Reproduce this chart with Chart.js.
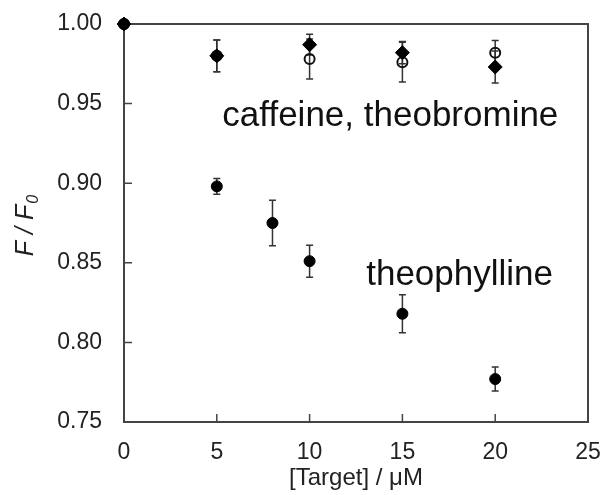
<!DOCTYPE html>
<html>
<head>
<meta charset="utf-8">
<script src="https://cdn.jsdelivr.net/npm/chart.js@4.4.1/dist/chart.umd.min.js"></script>
<style>
  body { margin: 0; background: #fff; }
</style>
</head>
<body>
<canvas id="myChart" width="602" height="495"></canvas>
<script>
// concentrations in µM
const caffeineConc = [0, 5, 10, 15, 20];
const caffeine = [1.000, 0.980, 0.987, 0.982, 0.973];
const caffeineErr = [0, 0.010, 0.0065, 0.007, 0.010];

const theobromineConc = [0, 5, 10, 15, 20];
const theobromine = [1.000, 0.980, 0.978, 0.976, 0.982];
const theobromineErr = [0, 0.010, 0.0125, 0.0125, 0.0077];

const theophyllineConc = [0, 5, 8, 10, 15, 20];
const theophylline = [1.000, 0.898, 0.875, 0.851, 0.818, 0.777];
const theophyllineErr = [0, 0.005, 0.0143, 0.010, 0.012, 0.0075];

const xTicks = [0, 5, 10, 15, 20, 25];
const yTicks = [0.75, 0.80, 0.85, 0.90, 0.95, 1.00];

// text placed inside the plot, in data units (left edge, baseline)
const notes = [
    { text: "caffeine, theobromine", x: 5.3, y: 0.9358 },
    { text: "theophylline", x: 13.05, y: 0.8358 }
];

const axisColor = "#444";
const textColor = "#222";
const FONT = "'Liberation Sans', Arial, sans-serif";

function points(xs, ys, errs) {
    return xs.map((x, i) => ({ x: x, y: ys[i], err: errs[i] }));
}

// error bars go under the markers
const errorBars = {
    id: "errorBars",
    beforeDatasetsDraw(chart) {
        const ctx = chart.ctx;
        const xs = chart.scales.x, ys = chart.scales.y;
        ctx.save();
        ctx.strokeStyle = "#333";
        ctx.lineWidth = 1.5;
        chart.data.datasets.forEach(ds => {
            ds.data.forEach(p => {
                if (!p.err) return;
                const px = xs.getPixelForValue(p.x);
                const top = ys.getPixelForValue(p.y + p.err);
                const bot = ys.getPixelForValue(p.y - p.err);
                ctx.beginPath();
                ctx.moveTo(px, top); ctx.lineTo(px, bot);
                ctx.moveTo(px - 3.5, top); ctx.lineTo(px + 3.5, top);
                ctx.moveTo(px - 3.5, bot); ctx.lineTo(px + 3.5, bot);
                ctx.stroke();
            });
        });
        ctx.restore();
    }
};

// closed frame with inward ticks, y title with subscript, notes
const frame = {
    id: "frame",
    beforeDatasetsDraw(chart) {
        const ctx = chart.ctx;
        const a = chart.chartArea;
        const xs = chart.scales.x, ys = chart.scales.y;
        ctx.save();
        ctx.strokeStyle = axisColor;
        ctx.lineWidth = 2;
        ctx.strokeRect(a.left, a.top, a.right - a.left, a.bottom - a.top);
        ctx.lineWidth = 1.5;
        ctx.beginPath();
        xTicks.forEach(v => {
            const px = xs.getPixelForValue(v);
            ctx.moveTo(px, a.bottom); ctx.lineTo(px, a.bottom - 8);
        });
        yTicks.forEach(v => {
            const py = ys.getPixelForValue(v);
            ctx.moveTo(a.left, py); ctx.lineTo(a.left + 8, py);
        });
        ctx.stroke();
        ctx.restore();
    },
    afterDraw(chart) {
        const ctx = chart.ctx;
        const xs = chart.scales.x, ys = chart.scales.y;
        ctx.save();
        ctx.fillStyle = "#111";
        ctx.font = "35px " + FONT;
        ctx.textBaseline = "alphabetic";
        notes.forEach(n => {
            ctx.fillText(n.text, xs.getPixelForValue(n.x), ys.getPixelForValue(n.y));
        });

        // F / F0
        ctx.fillStyle = textColor;
        ctx.translate(33, 226);
        ctx.rotate(-Math.PI / 2);
        ctx.font = "italic 25px " + FONT;
        const main = "F / F";
        const w = ctx.measureText(main).width;
        ctx.font = "italic 16px " + FONT;
        const ws = ctx.measureText("0").width;
        const start = -(w + ws) / 2;
        ctx.font = "italic 25px " + FONT;
        ctx.fillText(main, start, 0);
        ctx.font = "italic 16px " + FONT;
        ctx.fillText("0", start + w + 1, 5);
        ctx.restore();
    }
};

new Chart("myChart", {
    type: "scatter",
    data: {
        datasets: [{
            label: "caffeine",
            data: points(caffeineConc, caffeine, caffeineErr),
            pointStyle: "rectRot",
            pointRadius: 7,
            backgroundColor: "#000",
            borderColor: "#000",
            borderWidth: 1,
            clip: false,
            order: 1
        }, {
            label: "theobromine",
            data: points(theobromineConc, theobromine, theobromineErr),
            pointStyle: "circle",
            pointRadius: 5,
            backgroundColor: "rgba(0,0,0,0)",
            borderColor: "#111",
            borderWidth: 2,
            clip: false,
            order: 2
        }, {
            label: "theophylline",
            data: points(theophyllineConc, theophylline, theophyllineErr),
            pointStyle: "circle",
            pointRadius: 5.5,
            backgroundColor: "#000",
            borderColor: "#000",
            borderWidth: 1,
            clip: false,
            order: 3
        }]
    },
    options: {
        responsive: false,
        animation: false,
        events: [],
        layout: { autoPadding: false, padding: { left: 0, right: 14, top: 24, bottom: 0 } },
        plugins: {
            legend: { display: false },
            tooltip: { enabled: false }
        },
        scales: {
            x: {
                type: "linear",
                min: 0, max: 25,
                afterFit: s => { s.height = 73; s.paddingLeft = 0; s.paddingRight = 0; },
                afterBuildTicks: s => { s.ticks = xTicks.map(v => ({ value: v })); },
                grid: { display: false },
                border: { display: false },
                ticks: { color: textColor, font: { family: FONT, size: 23 }, padding: 9, maxRotation: 0 },
                title: {
                    display: true,
                    text: "[Target] / μM",
                    color: textColor,
                    font: { family: FONT, size: 24 },
                    padding: { top: 0, bottom: 2 }
                }
            },
            y: {
                min: 0.75, max: 1.00,
                afterFit: s => { s.width = 124; s.paddingTop = 0; s.paddingBottom = 0; },
                afterBuildTicks: s => { s.ticks = yTicks.map(v => ({ value: v })); },
                grid: { display: false },
                border: { display: false },
                ticks: {
                    color: textColor,
                    font: { family: FONT, size: 23 },
                    padding: 14,
                    callback: v => v.toFixed(2)
                }
            }
        }
    },
    plugins: [errorBars, frame]
});
</script>
</body>
</html>
